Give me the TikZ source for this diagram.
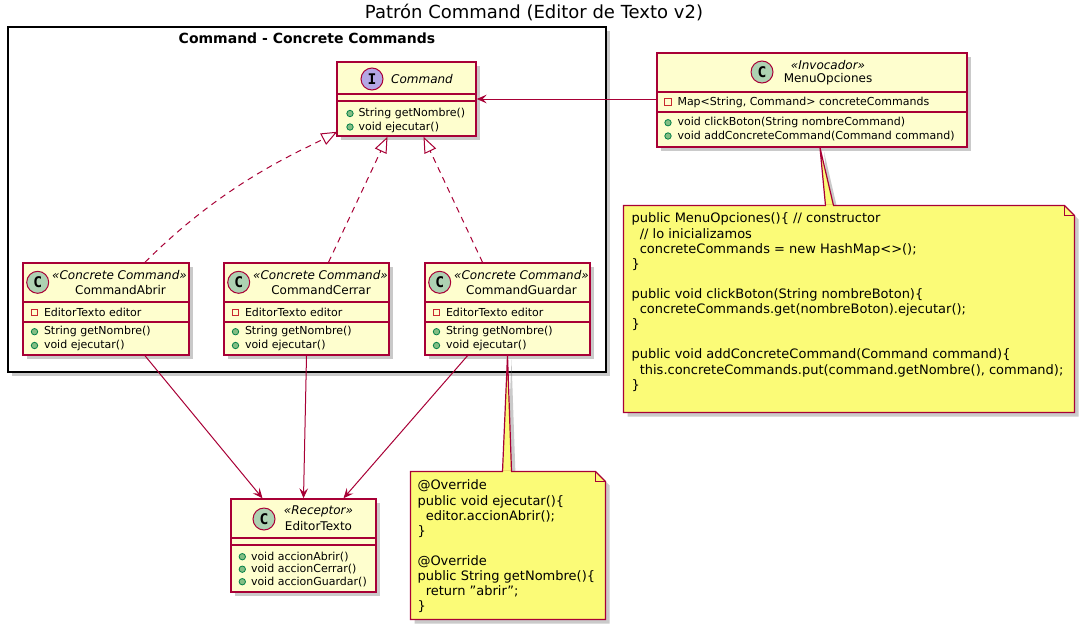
\documentclass[tikz,border=0pt]{standalone}
\usepackage{fontspec}
\setmainfont{DejaVu Sans}
\newfontfamily\spotfont{DejaVu Sans Mono}
\usetikzlibrary{arrows.meta,calc,fit,shadows}

\definecolor{clsfill}{HTML}{FEFECE}
\definecolor{clsline}{HTML}{A80036}
\definecolor{notefill}{HTML}{FBFB77}
\definecolor{spotC}{HTML}{ADD1B2}
\definecolor{spotI}{HTML}{B4A7E5}
\definecolor{pubfill}{HTML}{84BE84}
\definecolor{publine}{HTML}{038048}
\definecolor{privline}{HTML}{C82930}

\tikzset{every picture/.style={line width=0.75pt}}
\tikzset{
	umlshadow/.style={drop shadow={shadow xshift=3pt,shadow yshift=-3pt,opacity=0.35,fill=black!60}},
	cls/.style={draw=clsline, fill=clsfill, line width=1.1pt, inner sep=0pt, umlshadow},
	sepline/.style={draw=clsline, line width=1.1pt},
	spot/.style={circle, draw=clsline, line width=0.75pt, minimum size=16.5pt, inner sep=0pt, font=\spotfont\bfseries\fontsize{11}{11}\selectfont},
	stereo/.style={font=\itshape\fontsize{9}{9}\selectfont, inner sep=0pt},
	clsname/.style={font=\fontsize{9}{9}\selectfont, inner sep=0pt},
	member/.style={font=\fontsize{8.25}{8.25}\selectfont, inner sep=0pt, anchor=west},
	pub/.style={circle, fill=pubfill, draw=publine, line width=0.6pt, minimum size=4.8pt, inner sep=0pt},
	priv/.style={rectangle, draw=privline, line width=0.6pt, minimum size=4.8pt, inner sep=0pt},
	notedraw/.style={draw=clsline, fill=notefill, line width=0.9pt},
	notetext/.style={font=\fontsize{9.75}{11.33}\selectfont, align=left, inner sep=0pt, anchor=north west},
	realize/.style={draw=clsline, dash pattern=on 4.5pt off 3.75pt, -{Triangle[open,length=12pt,width=9.5pt]}},
	assoc/.style={draw=clsline, -{Stealth[length=7.5pt,width=6.5pt,inset=3pt]}},
}

\begin{document}
\begin{tikzpicture}[x=0.75pt,y=0.75pt,yscale=-1,xscale=1]
		\useasboundingbox (0,0) rectangle (1080,625);
		
		\node[font=\fontsize{13.5}{13.5}\selectfont] (title) at (534,12) {Patrón Command (Editor de Texto v2)};
		
		%Package frame
		\node[fit={(8,27) (606,372)}, draw=black, fill=white, line width=1.1pt, inner sep=0pt, umlshadow] (pkg) {};
		\node[font=\bfseries\fontsize{10.5}{10.5}\selectfont] (pkgtitle) at (307,38) {Command - Concrete Commands};
		
		%Interface Command
		\node[cls, fit={(337,62) (476,136)}] (cmd) {};
		\draw[sepline] (337,94) -- (476,94) (337,101) -- (476,101);
		\node[spot, fill=spotI] (cmdspot) at (372,79) {I};
		\node[stereo] (cmdname) at (422,79) {Command};
		\node[pub] (cmdp1) at (350,113.5) {};
		\node[member] (cmdm1) at (358,113.5) {String getNombre()};
		\node[pub] (cmdp2) at (350,127) {};
		\node[member] (cmdm2) at (358,127) {void ejecutar()};
		
		%Class MenuOpciones
		\node[cls, fit={(657,53) (967,147)}] (menu) {};
		\draw[sepline] (657,92) -- (967,92) (657,112) -- (967,112);
		\node[spot, fill=spotC] (menuspot) at (762,72) {C};
		\node[stereo] (menustereo) at (828,65.5) {«Invocador»};
		\node[clsname] (menuname) at (828,79.5) {MenuOpciones};
		\node[priv] (menua1) at (668,102) {};
		\node[member] (menuattr) at (677,102) {Map<String, Command> concreteCommands};
		\node[pub] (menup1) at (668,122.7) {};
		\node[member] (menum1) at (677,122.7) {void clickBoton(String nombreCommand)};
		\node[pub] (menup2) at (668,136) {};
		\node[member] (menum2) at (677,136) {void addConcreteCommand(Command command)};
		
		%Class CommandAbrir
		\node[cls, fit={(23,263) (189,355)}] (abrir) {};
		\draw[sepline] (23,302) -- (189,302) (23,322) -- (189,322);
		\node[spot, fill=spotC] (abrirspot) at (37.7,282.3) {C};
		\node[stereo] (abrirstereo) at (119.5,275.5) {«Concrete Command»};
		\node[clsname] (abrirname) at (120.5,290) {CommandAbrir};
		\node[priv] (abrira1) at (34.5,312.3) {};
		\node[member] (abrirattr) at (43.5,312.3) {EditorTexto editor};
		\node[pub] (abrirp1) at (34.5,331.7) {};
		\node[member] (abrirm1) at (43.5,331.7) {String getNombre()};
		\node[pub] (abrirp2) at (34.5,345.5) {};
		\node[member] (abrirm2) at (43.5,345.5) {void ejecutar()};
		
		%Class CommandCerrar
		\node[cls, fit={(224,263) (389,355)}] (cerrar) {};
		\draw[sepline] (224,302) -- (389,302) (224,322) -- (389,322);
		\node[spot, fill=spotC] (cerrarspot) at (238.7,282.3) {C};
		\node[stereo] (cerrarstereo) at (320.5,275.5) {«Concrete Command»};
		\node[clsname] (cerrarname) at (321,290) {CommandCerrar};
		\node[priv] (cerrara1) at (235.5,312.3) {};
		\node[member] (cerrarattr) at (244.5,312.3) {EditorTexto editor};
		\node[pub] (cerrarp1) at (235.5,331.7) {};
		\node[member] (cerrarm1) at (244.5,331.7) {String getNombre()};
		\node[pub] (cerrarp2) at (235.5,345.5) {};
		\node[member] (cerrarm2) at (244.5,345.5) {void ejecutar()};
		
		%Class CommandGuardar
		\node[cls, fit={(425,263) (590,355)}] (guardar) {};
		\draw[sepline] (425,302) -- (590,302) (425,322) -- (590,322);
		\node[spot, fill=spotC] (guardarspot) at (439.7,282.3) {C};
		\node[stereo] (guardarstereo) at (521.5,275.5) {«Concrete Command»};
		\node[clsname] (guardarname) at (521.5,290) {CommandGuardar};
		\node[priv] (guardara1) at (436.5,312.3) {};
		\node[member] (guardarattr) at (445.5,312.3) {EditorTexto editor};
		\node[pub] (guardarp1) at (436.5,331.7) {};
		\node[member] (guardarm1) at (445.5,331.7) {String getNombre()};
		\node[pub] (guardarp2) at (436.5,345.5) {};
		\node[member] (guardarm2) at (445.5,345.5) {void ejecutar()};
		
		%Class EditorTexto
		\node[cls, fit={(231,499) (376,592)}] (editor) {};
		\draw[sepline] (231,538) -- (376,538) (231,545) -- (376,545);
		\node[spot, fill=spotC] (editorspot) at (264,519) {C};
		\node[stereo] (editorstereo) at (318.5,511.7) {«Receptor»};
		\node[clsname] (editorname) at (318.5,526) {EditorTexto};
		\node[pub] (editorp1) at (242.3,556.7) {};
		\node[member] (editorm1) at (250.5,556.7) {void accionAbrir()};
		\node[pub] (editorp2) at (242.3,569.2) {};
		\node[member] (editorm2) at (250.5,569.2) {void accionCerrar()};
		\node[pub] (editorp3) at (242.3,581.7) {};
		\node[member] (editorm3) at (250.5,581.7) {void accionGuardar()};
		
		%Note MenuOpciones
		\node[fit={(624,206) (1074,412)}, inner sep=0pt] (note1) {};
		\fill[notefill, umlshadow] ($(menu.south)+(8,0)$) -- ($(note1.north west)+(202,0)$) -- ($(note1.north west)+(210,0)$) -- cycle;
		\draw[notedraw, umlshadow] (note1.north west) -- ($(note1.north east)+(-10,0)$) -- ($(note1.north east)+(0,10)$) -- (note1.south east) -- (note1.south west) -- cycle;
		\draw[clsline, line width=0.9pt] ($(note1.north east)+(-10,0)$) -- ($(note1.north east)+(-10,10)$) -- ($(note1.north east)+(0,10)$);
		\fill[notefill] ($(note1.north west)+(202.5,-1)$) rectangle ($(note1.north west)+(209.5,2)$);
		\draw[clsline, line width=0.9pt] ($(note1.north west)+(202,0)$) -- ($(menu.south)+(8,0)$) -- ($(note1.north west)+(210,0)$);
		\node[notetext] (note1text) at (631,212.6) {public MenuOpciones()\{ // constructor\\
			\ \ // lo inicializamos\\
			\ \ concreteCommands = new HashMap<>();\\
			\}\\
			\mbox{}\\
			public void clickBoton(String nombreBoton)\{\\
			\ \ concreteCommands.get(nombreBoton).ejecutar();\\
			\}\\
			\mbox{}\\
			public void addConcreteCommand(Command command)\{\\
			\ \ this.concreteCommands.put(command.getNombre(), command);\\
			\}};
		
		%Note CommandGuardar
		\node[fit={(411,472) (605,619)}, inner sep=0pt] (note2) {};
		\fill[notefill, umlshadow] (guardar.south) -- ($(note2.north west)+(92,0)$) -- ($(note2.north west)+(101,0)$) -- cycle;
		\draw[notedraw, umlshadow] (note2.north west) -- ($(note2.north east)+(-10,0)$) -- ($(note2.north east)+(0,10)$) -- (note2.south east) -- (note2.south west) -- cycle;
		\draw[clsline, line width=0.9pt] ($(note2.north east)+(-10,0)$) -- ($(note2.north east)+(-10,10)$) -- ($(note2.north east)+(0,10)$);
		\fill[notefill] ($(note2.north west)+(92.5,-1)$) rectangle ($(note2.north west)+(100.5,2)$);
		\draw[clsline, line width=0.9pt] ($(note2.north west)+(92,0)$) -- (guardar.south) -- ($(note2.north west)+(101,0)$);
		\node[notetext] (note2text) at (417,479.6) {@Override\\
			public void ejecutar()\{\\
			\ \ editor.accionAbrir();\\
			\}\\
			\mbox{}\\
			@Override\\
			public String getNombre()\{\\
			\ \ return \symbol{34}abrir\symbol{34};\\
			\}};
		
		%Connectors
		\draw[assoc] (menu.west |- cmd.east) -- (cmd.east);
		\draw[realize] ($(abrir.north)+(39,0)$) .. controls +(80,-80) and +(-40,21) .. ($(cmd.south west)+(1,-5)$);
		\draw[realize] ($(cerrar.north)+(22,0)$) -- ($(cmd.south)+(-19,0)$);
		\draw[realize] ($(guardar.north)+(-25,0)$) -- ($(cmd.south)+(17,0)$);
		\draw[assoc] ($(abrir.south)+(39,0)$) -- ($(editor.north)+(-41,0)$);
		\draw[assoc] (cerrar.south) -- (editor.north);
		\draw[assoc] ($(guardar.south)+(-40,0)$) -- ($(editor.north)+(40,0)$);
		
\end{tikzpicture}
\end{document}
